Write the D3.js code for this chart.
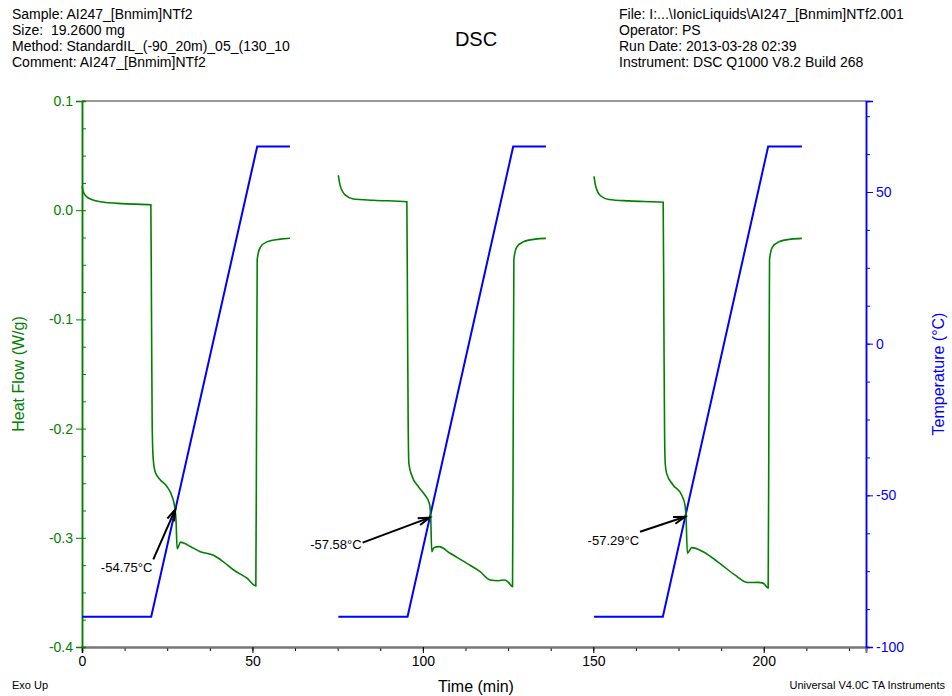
<!DOCTYPE html>
<html>
<head>
<meta charset="utf-8">
<script src="https://cdn.jsdelivr.net/npm/d3@7"></script>
<style>
  body { margin: 0; background: #fff; }
  svg { font-family: "Liberation Sans", Arial, sans-serif; }
  .header { white-space: pre; }
</style>
</head>
<body>
<svg id="chart" width="952" height="696"></svg>
<script>
// header text
const headerLeft = ["Sample: AI247_[Bnmim]NTf2", "Size:  19.2600 mg", "Method: StandardIL_(-90_20m)_05_(130_10", "Comment: AI247_[Bnmim]NTf2"];
const headerRight = ["File: I:...\\IonicLiquids\\AI247_[Bnmim]NTf2.001", "Operator: PS", "Run Date: 2013-03-28 02:39", "Instrument: DSC Q1000 V8.2 Build 268"];

// ticks
const timeTicks = [0, 50, 100, 150, 200];
const hfTicks = [-0.4, -0.3, -0.2, -0.1, 0.0, 0.1];
const tempTicks = [-100, -50, 0, 50];

// heat flow (W/g) vs time (min), one array per cycle
const hfCycle1 = [[0, 0.022], [0.5, 0.016], [1.5, 0.012], [3, 0.0095], [6, 0.0075], [12, 0.006], [20.2, 0.005],
  [20.4, -0.1], [20.6, -0.2], [20.9, -0.228], [21.5, -0.24], [23, -0.247], [24.9, -0.253], [26.4, -0.262], [27.2, -0.272],
  [27.6, -0.285], [27.9, -0.31], [28.3, -0.308], [28.9, -0.304], [30, -0.305], [31.8, -0.308], [34.7, -0.3127], [38.6, -0.316],
  [41.5, -0.322], [44.5, -0.3295], [48.4, -0.337], [51.0, -0.344], [51.2, -0.2], [51.4, -0.045], [52.3, -0.034], [54.2, -0.029],
  [58.1, -0.0265], [61, -0.0257]];
const hfCycle2 = [[75.2, 0.032], [75.7, 0.023], [77.2, 0.014], [79.6, 0.0103], [85.5, 0.0091], [95.3, 0.0078],
  [95.5, -0.1], [95.7, -0.2], [95.9, -0.232], [96.7, -0.2425], [98.7, -0.2532], [100.6, -0.2608], [101.9, -0.2684], [102.3, -0.281],
  [102.6, -0.3127], [103.2, -0.309], [104.8, -0.3081], [108, -0.3142], [112.9, -0.3234], [116.8, -0.331], [119.7, -0.3386],
  [122.1, -0.3393], [124.1, -0.3386], [125.1, -0.3408], [126.3, -0.3448], [126.5, -0.2], [126.7, -0.045], [127.5, -0.034],
  [129.4, -0.029], [133, -0.0265], [136.1, -0.0258]];
const hfCycle3 = [[150.2, 0.031], [150.7, 0.022], [152.2, 0.013], [154.6, 0.0098], [160.5, 0.0085], [170.5, 0.0073],
  [170.7, -0.1], [170.9, -0.2], [171.1, -0.232], [171.5, -0.241], [173.4, -0.2516], [175.9, -0.2608], [176.9, -0.27], [177.2, -0.281],
  [177.6, -0.3142], [178.9, -0.309], [182.2, -0.3127], [187.1, -0.3234], [191.5, -0.334], [195.4, -0.341], [198.3, -0.3408],
  [199.8, -0.3415], [201.3, -0.346], [201.5, -0.2], [201.7, -0.045], [202.5, -0.034], [204.4, -0.029], [208, -0.0265], [211.2, -0.0258]];

// temperature program (°C) vs time (min)
const tempCycle1 = [[0, -90], [20.3, -90], [51.4, 65], [61, 65]];
const tempCycle2 = [[75.2, -90], [95.5, -90], [126.5, 65], [136.1, 65]];
const tempCycle3 = [[150.2, -90], [170.4, -90], [201.3, 65], [211.2, 65]];

// glass transition marks: temperature and heat flow at the arrow tip
const tgLabels = ["-54.75°C", "-57.58°C", "-57.29°C"];
const tgTemps = [-54.75, -57.58, -57.29];
const tgHeatFlow = [-0.274, -0.2815, -0.2807];

const green = "#008000", blue = "#0000ff";
const svg = d3.select("#chart");
const plotLeft = 82, plotRight = 866, plotTop = 101, plotBottom = 647;

const x = d3.scaleLinear().domain([0, 230]).range([plotLeft, plotRight]);
const yHF = d3.scaleLinear().domain([-0.4, 0.1]).range([plotBottom, plotTop]);
const yT = d3.scaleLinear().domain([-100, 80]).range([plotBottom, plotTop]);

// plain hyphen for negative numbers, like the original software
const loc = d3.formatLocale({decimal: ".", thousands: ",", grouping: [3], currency: ["", ""], minus: "-"});

// header
svg.append("g").selectAll("text").data(headerLeft).join("text")
  .attr("class", "header")
  .attr("x", 12).attr("y", (d, i) => 19 + i * 16)
  .attr("font-size", 14).text(d => d);
svg.append("g").selectAll("text").data(headerRight).join("text")
  .attr("class", "header")
  .attr("x", 619).attr("y", (d, i) => 19 + i * 16)
  .attr("font-size", 14).text(d => d);
svg.append("text").attr("x", 476).attr("y", 46).attr("text-anchor", "middle")
  .attr("font-size", 20).text("DSC");

// frame line on top
svg.append("line").attr("x1", plotLeft).attr("x2", plotRight).attr("y1", plotTop).attr("y2", plotTop)
  .attr("stroke", "#777").attr("stroke-width", 1.5);

// bottom axis
const xAxis = svg.append("g").attr("transform", `translate(0,${plotBottom})`);
xAxis.call(d3.axisBottom(x).tickValues(d3.range(0, 230, 12.5)).tickSize(4).tickFormat(""));
xAxis.call(g => g.append("g").call(d3.axisBottom(x).tickValues(timeTicks).tickSize(6).tickFormat(loc.format("d"))));
xAxis.selectAll(".domain").attr("stroke", "#777").attr("stroke-width", 2);
xAxis.selectAll("text").attr("font-size", 14).attr("fill", "#000").attr("font-family", "Liberation Sans, Arial, sans-serif");

// left axis
const yAxisL = svg.append("g").attr("transform", `translate(${plotLeft},0)`);
yAxisL.call(d3.axisRight(yHF).tickValues(d3.range(-0.4, 0.1001, 0.025)).tickSize(4).tickFormat(""));
yAxisL.call(g => g.append("g").call(d3.axisLeft(yHF).tickValues(hfTicks).tickSize(6).tickFormat(loc.format(".1f"))));
yAxisL.selectAll("line").attr("stroke", green);
yAxisL.selectAll(".domain").attr("stroke", green).attr("stroke-width", 1.5);
yAxisL.selectAll("text").attr("font-size", 14).attr("fill", green).attr("font-family", "Liberation Sans, Arial, sans-serif");

// right axis
const yAxisR = svg.append("g").attr("transform", `translate(${plotRight},0)`);
yAxisR.call(d3.axisRight(yT).tickValues(d3.range(-100, 80.01, 12.5)).tickSize(4).tickFormat(""));
yAxisR.call(g => g.append("g").call(d3.axisRight(yT).tickValues(tempTicks).tickSize(7).tickFormat(loc.format("d"))));
yAxisR.selectAll("line").attr("stroke", blue);
yAxisR.selectAll(".domain").attr("stroke", blue).attr("stroke-width", 1.5);
yAxisR.selectAll("text").attr("font-size", 14).attr("fill", blue).attr("font-family", "Liberation Sans, Arial, sans-serif");

// axis titles
svg.append("text").attr("transform", `translate(24,${(plotTop + plotBottom) / 2}) rotate(-90)`)
  .attr("text-anchor", "middle").attr("font-size", 16).attr("fill", green).text("Heat Flow (W/g)");
svg.append("text").attr("transform", `translate(944,${(plotTop + plotBottom) / 2}) rotate(-90)`)
  .attr("text-anchor", "middle").attr("font-size", 16).attr("fill", blue).text("Temperature (°C)");
svg.append("text").attr("x", 476).attr("y", 692).attr("text-anchor", "middle")
  .attr("font-size", 16).text("Time (min)");
svg.append("text").attr("x", 12).attr("y", 689).attr("font-size", 11).text("Exo Up");
svg.append("text").attr("x", 945).attr("y", 689).attr("text-anchor", "end").attr("font-size", 11)
  .text("Universal V4.0C TA Instruments");

// curves
const hfLine = d3.line().x(d => x(d[0])).y(d => yHF(d[1])).curve(d3.curveMonotoneX);
const tLine = d3.line().x(d => x(d[0])).y(d => yT(d[1]));

svg.append("g").selectAll("path").data([tempCycle1, tempCycle2, tempCycle3]).join("path")
  .attr("d", tLine).attr("fill", "none").attr("stroke", blue).attr("stroke-width", 2);
svg.append("g").selectAll("path").data([hfCycle1, hfCycle2, hfCycle3]).join("path")
  .attr("d", hfLine).attr("fill", "none").attr("stroke", green).attr("stroke-width", 1.6);

// arrows at Tg
const temps = [tempCycle1, tempCycle2, tempCycle3];
const tailOffsets = [[-22, 50], [-67, 25], [-45, 15]];
const textDy = [13, 6, 13];
const ann = svg.append("g");
tgTemps.forEach((tg, i) => {
  const ramp = temps[i];
  const tTime = d3.scaleLinear().domain([ramp[1][1], ramp[2][1]]).range([ramp[1][0], ramp[2][0]])(tg);
  const tx = x(tTime), ty = yHF(tgHeatFlow[i]);
  const sx = tx + tailOffsets[i][0], sy = ty + tailOffsets[i][1];
  const ang = Math.atan2(ty - sy, tx - sx);
  const hl = 12, ha = 0.3;
  ann.append("line").attr("x1", sx).attr("y1", sy).attr("x2", tx).attr("y2", ty)
    .attr("stroke", "#000").attr("stroke-width", 2);
  ann.append("path")
    .attr("d", `M${tx - hl * Math.cos(ang - ha)},${ty - hl * Math.sin(ang - ha)}L${tx},${ty}L${tx - hl * Math.cos(ang + ha)},${ty - hl * Math.sin(ang + ha)}`)
    .attr("fill", "none").attr("stroke", "#000").attr("stroke-width", 2);
  ann.append("text").attr("x", sx - 1).attr("y", sy + textDy[i]).attr("text-anchor", "end")
    .attr("font-size", 13).text(tgLabels[i]);
});
</script>
</body>
</html>
